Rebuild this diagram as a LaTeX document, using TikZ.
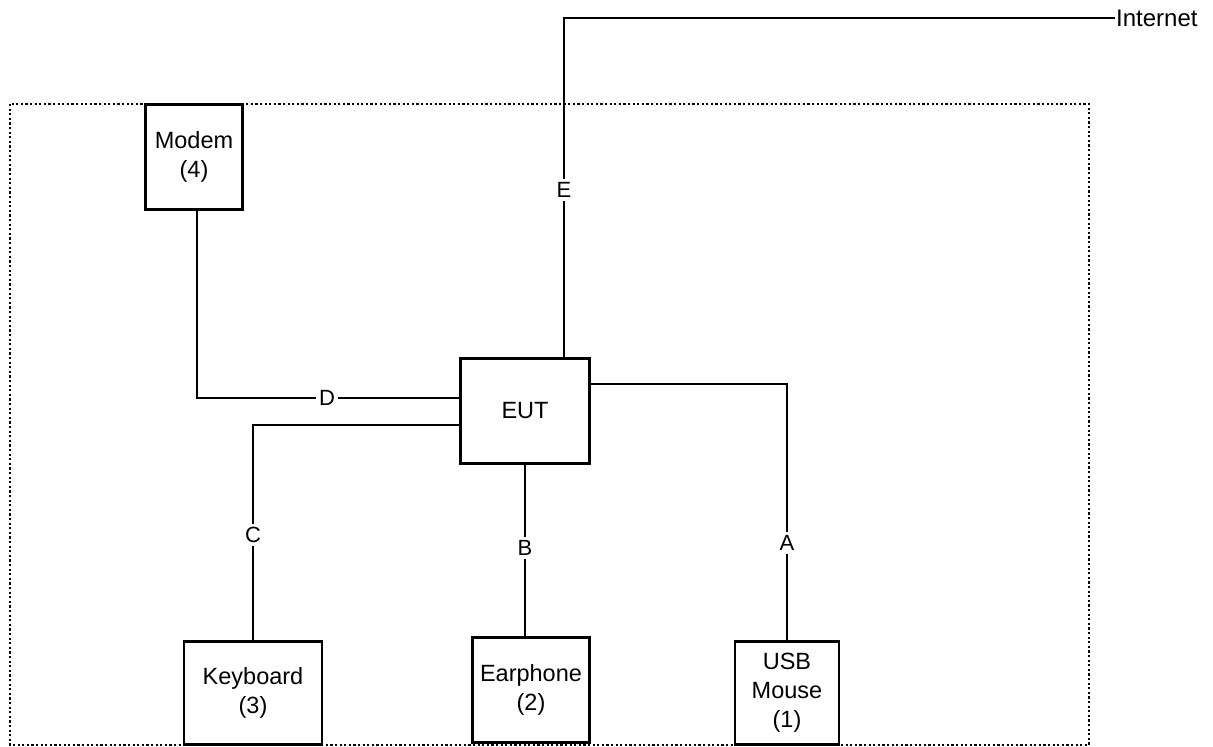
\documentclass[tikz,border=0pt]{standalone}
\usepackage{fontspec}
\setmainfont{Liberation Sans}
\begin{document}
\begin{tikzpicture}[x=1pt,y=-1pt,
  box/.style={draw,line width=2.6pt,rectangle,align=center,inner sep=0pt,font=\fontsize{23.5}{29}\selectfont},
  wire/.style={line width=2.4pt},
  lbl/.style={fill=white,inner sep=3pt,font=\fontsize{22}{25}\selectfont},
  encl/.style={line width=2.4pt,dash pattern=on 2.2pt off 2.4pt}]
\useasboundingbox (0,0) rectangle (1213,747);
\fill[white] (0,0) rectangle (1213,747);
\draw[encl] (10,104) rectangle (1089,745);
\node[box,minimum width=97,minimum height=105] (modem) at (194,157) {Modem\\(4)};
\node[box,minimum width=129,minimum height=105] (eut) at (525,411) {EUT};
\node[box,minimum width=138,minimum height=103] (kbd) at (253,693) {Keyboard\\(3)};
\node[box,minimum width=117,minimum height=105] (ear) at (531,690) {Earphone\\(2)};
\node[box,minimum width=104,minimum height=103] (usb) at (787,693) {USB\\Mouse\\(1)};
\coordinate (e1) at (564,18);
\node[anchor=west,inner sep=1pt,font=\fontsize{24}{28}\selectfont] (inet) at (1115,18) {Internet};
\coordinate (d1) at (197,398);
\coordinate (c1) at (253,425);
\coordinate (a1) at (787,384);
\draw[wire] (eut.north -| e1) -- (e1) -- (inet.west);
\draw[wire] (eut.west |- d1) -- (d1) -- (modem.south -| d1);
\draw[wire] (eut.west |- c1) -- (c1) -- (kbd.north);
\draw[wire] (eut.south) -- (eut.south |- ear.north);
\draw[wire] (eut.east |- a1) -- (a1) -- (usb.north);
\node[lbl] (le) at (564,190) {E};
\node[lbl] (ld) at (327,398) {D};
\node[lbl] (lc) at (253,535) {C};
\node[lbl] (lb) at (525,548) {B};
\node[lbl] (la) at (787,543) {A};
\end{tikzpicture}
\end{document}
